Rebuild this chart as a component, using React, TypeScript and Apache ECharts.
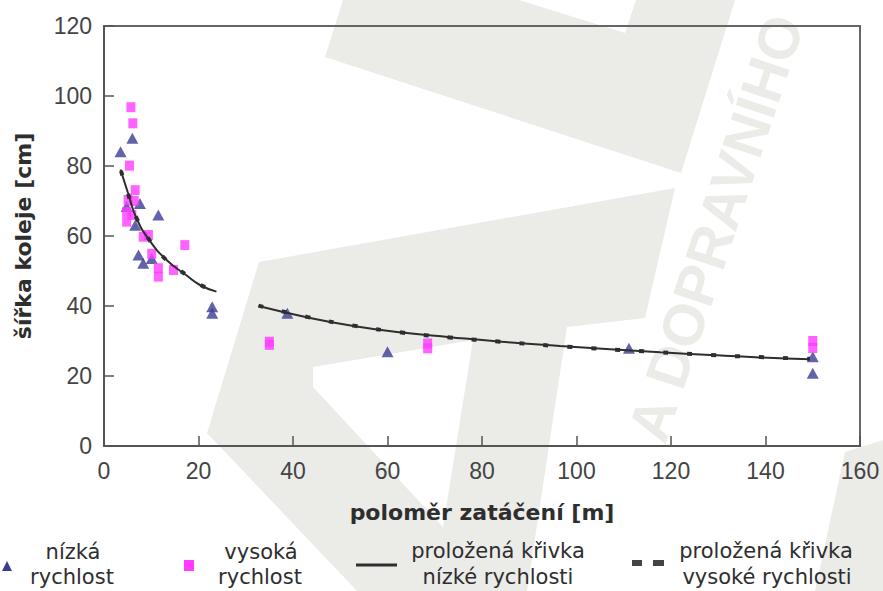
import React, { useEffect, useRef } from "react";
import * as echarts from "echarts";

// Measured points: [radius m, track width cm]
const lowSpeedPoints: number[][] = [
  [3.5, 84.1], [6.0, 87.9], [7.6, 69.3], [11.5, 66.0], [4.8, 68.4], [6.6, 63.1],
  [7.3, 54.6], [8.3, 52.2], [10.1, 53.6], [22.9, 39.8], [22.9, 37.9], [38.8, 37.9],
  [60.0, 26.9], [111.1, 27.9], [150.0, 25.5], [150.0, 20.8],
];
const highSpeedPoints: number[][] = [
  [5.7, 96.8], [6.1, 92.2], [5.4, 80.1], [6.6, 73.1], [5.1, 70.3], [4.8, 66.9],
  [4.8, 64.1], [5.9, 66.0], [6.4, 70.0], [8.3, 59.8], [9.4, 60.3], [10.1, 54.9],
  [11.5, 50.8], [11.5, 48.4], [14.7, 50.3], [17.1, 57.4], [35.0, 29.8], [35.0, 28.9],
  [68.5, 29.3], [68.5, 27.9], [150.0, 30.0], [150.0, 28.0],
];
// Fitted curves, two visible segments each
const lowFitSeg1: number[][] = [
  [3.5, 79.0], [5.1, 72.2], [6.9, 65.0], [9.7, 58.6], [13.3, 53.1], [17.5, 48.7], [20.3, 46.0], [23.8, 44.1],
];
const lowFitSeg2: number[][] = [
  [32.7, 40.0], [42.9, 36.8], [52.8, 34.3], [62.6, 32.5], [73.2, 31.1], [84.0, 29.8],
  [96.5, 28.6], [117.7, 26.8], [128.3, 26.0], [138.8, 25.3], [149.4, 24.8],
];
const highFitSeg1: number[][] = [
  [3.6, 78.6], [5.1, 72.0], [6.9, 65.1], [9.7, 58.7], [13.3, 53.0], [17.5, 48.8], [20.3, 46.1], [23.8, 44.0],
];
const highFitSeg2: number[][] = [
  [32.7, 40.1], [42.9, 36.9], [52.8, 34.4], [62.6, 32.5], [73.2, 31.0], [84.0, 29.8],
  [96.5, 28.5], [117.7, 26.8], [128.3, 26.0], [138.8, 25.4], [149.4, 24.9],
];

const xTitle = "poloměr zatáčení [m]";
const yTitle = "šířka koleje [cm]";
const legendLow = ["nízká", "rychlost"];
const legendHigh = ["vysoká", "rychlost"];
const legendLowFit = ["proložená křivka", "nízké rychlosti"];
const legendHighFit = ["proložená křivka", "vysoké rychlosti"];

const BLUE = "#3c3c96";
const MAGENTA = "#ff3cff";
const DARK = "#2e2e2e";
const WM = "#ebebe8";

export default function App() {
  const ref = useRef<HTMLDivElement>(null);
  useEffect(() => {
    document.body.style.margin = "0";
    const chart = echarts.init(ref.current!, null, { renderer: "svg" });
    const legendFont = "21px 'DejaVu Sans'";
    const txt = (text: string, x: number, y: number) => ({
      type: "text",
      x,
      y,
      style: { text, font: legendFont, fill: DARK, textAlign: "center", textVerticalAlign: "middle" },
    });
    const lineCommon = {
      type: "line",
      smooth: true,
      symbol: "none",
      silent: true,
      z: 5,
    };
    chart.setOption({
      animation: false,
      backgroundColor: "#ffffff",
      grid: {
        left: 104, right: 23, top: 26, bottom: 145,
        show: true, borderColor: "#666", borderWidth: 2, backgroundColor: "transparent",
      },
      xAxis: {
        type: "value", min: 0, max: 160, interval: 20,
        name: xTitle, nameLocation: "middle", nameGap: 55,
        nameTextStyle: { fontFamily: "DejaVu Sans", fontWeight: "bold", fontSize: 22, color: DARK },
        axisLine: { show: true, lineStyle: { color: "#555", width: 2 } },
        axisTick: { show: true, inside: true, length: 10, lineStyle: { color: "#555", width: 1.5 } },
        axisLabel: { fontFamily: "Liberation Sans", fontSize: 23, color: "#444", margin: 13 },
        splitLine: { show: false },
      },
      yAxis: {
        type: "value", min: 0, max: 120, interval: 20,
        name: yTitle, nameLocation: "middle", nameGap: 70,
        nameTextStyle: { fontFamily: "DejaVu Sans", fontWeight: "bold", fontSize: 22, color: DARK },
        axisLine: { show: true, lineStyle: { color: "#555", width: 2 } },
        axisTick: { show: true, inside: true, length: 10, lineStyle: { color: "#555", width: 1.5 } },
        axisLabel: { fontFamily: "Liberation Sans", fontSize: 23, color: "#444", margin: 12 },
        splitLine: { show: false },
      },
      graphic: [
        { type: "polygon", silent: true, z: -10,
          shape: { points: [[343, 0], [519, 0], [625, 33], [636, 0], [735, 0], [681, 173], [325, 57]] },
          style: { fill: WM } },
        { type: "polygon", silent: true, z: -10,
          shape: { points: [[259, 262], [675, 188], [645, 318], [567, 327], [527, 591], [357, 591], [207, 433]] },
          style: { fill: WM } },
        { type: "polygon", silent: true, z: -9,
          shape: { points: [[313, 367], [473, 340], [443, 527], [313, 387]] },
          style: { fill: "#ffffff" } },
        { type: "polygon", silent: true, z: -10,
          shape: { points: [[845, 452], [883, 440], [883, 591], [815, 591]] },
          style: { fill: WM } },
        { type: "text", silent: true, z: -8, x: 716, y: 228, rotation: 1.25,
          style: { text: "A DOPRAVNÍHO", font: "bold 58px 'Liberation Sans'", fill: WM, textAlign: "center", textVerticalAlign: "middle" } },
        // legend
        { type: "polygon", shape: { points: [[7, 561], [12, 571], [2, 571]] }, style: { fill: BLUE } },
        txt(legendLow[0], 73, 552), txt(legendLow[1], 72, 577),
        { type: "rect", shape: { x: 184, y: 560, width: 10, height: 11 }, style: { fill: MAGENTA } },
        txt(legendHigh[0], 261, 552), txt(legendHigh[1], 260, 577),
        { type: "line", shape: { x1: 356, y1: 565, x2: 397, y2: 565 }, style: { stroke: DARK, lineWidth: 3 } },
        txt(legendLowFit[0], 498, 551), txt(legendLowFit[1], 498, 577),
        { type: "rect", shape: { x: 632, y: 560, width: 10, height: 6 }, style: { fill: "#444" } },
        { type: "rect", shape: { x: 653, y: 560, width: 11, height: 6 }, style: { fill: "#444" } },
        txt(legendHighFit[0], 766, 551), txt(legendHighFit[1], 767, 577),
      ],
      series: [
        { name: legendLow.join(" "), type: "scatter", data: lowSpeedPoints, symbol: "triangle",
          symbolSize: [12, 11], itemStyle: { color: BLUE }, z: 3 },
        { name: legendHigh.join(" "), type: "scatter", data: highSpeedPoints, symbol: "rect",
          symbolSize: [9, 10], itemStyle: { color: MAGENTA }, z: 4 },
        { ...lineCommon, name: legendLowFit.join(" "), data: lowFitSeg1, lineStyle: { color: DARK, width: 2 } },
        { ...lineCommon, name: legendLowFit.join(" "), data: lowFitSeg2, lineStyle: { color: DARK, width: 2 } },
        { ...lineCommon, name: legendHighFit.join(" "), data: highFitSeg1, lineStyle: { color: DARK, width: 4, type: [5, 19] } },
        { ...lineCommon, name: legendHighFit.join(" "), data: highFitSeg2, lineStyle: { color: DARK, width: 4, type: [5, 19] } },
      ],
    });
    return () => chart.dispose();
  }, []);
  return <div ref={ref} style={{ width: 883, height: 591, position: "absolute", left: 0, top: 0 }} />;
}
